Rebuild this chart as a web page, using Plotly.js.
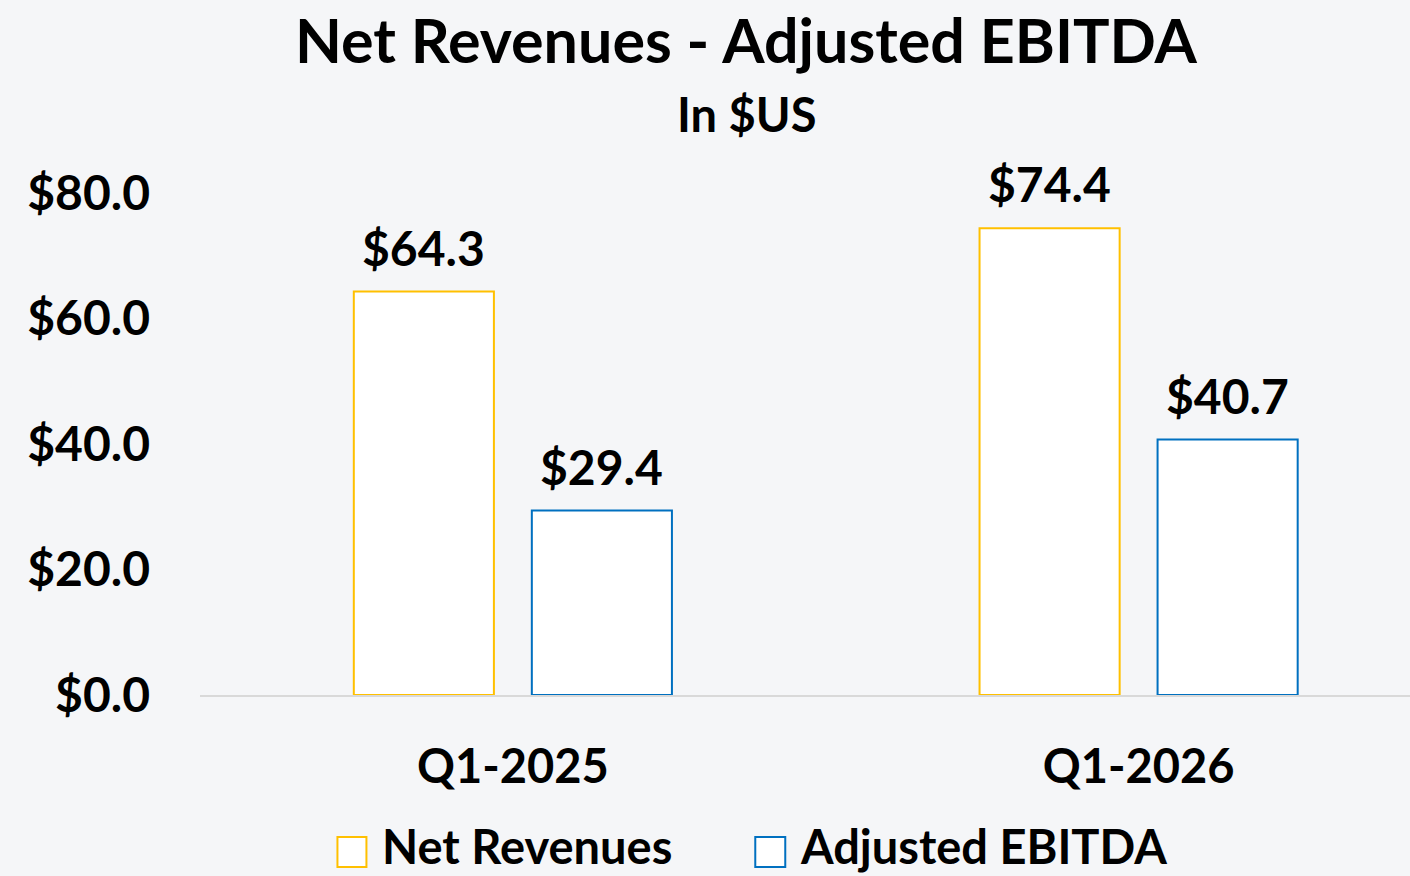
<!DOCTYPE html>
<html>
<head>
<meta charset="utf-8">
<script src="https://cdn.plot.ly/plotly-3.0.1.min.js"></script>
<style>
html,body{margin:0;padding:0;background:#f5f6f8;overflow:hidden;}
#chart{width:1410px;height:876px;}
</style>
</head>
<body>
<div id="chart"></div>
<script>
const categories = ["Q1-2025", "Q1-2026"];
const seriesNames = ["Net Revenues", "Adjusted EBITDA"];
const netRevenues = [64.3, 74.4];
const adjustedEbitda = [29.4, 40.7];
const yTicks = [0, 20, 40, 60, 80];
const titleText = "Net Revenues - Adjusted EBITDA";
const subtitleText = "In $US";

const FONT = "Lato, 'Open Sans', sans-serif";
const colors = ["#FFC000", "#0070C0"];
const values = [netRevenues, adjustedEbitda];

const traces = values.map((v, i) => ({
  type: "bar",
  name: seriesNames[i],
  x: categories,
  y: v,
  marker: {color: "#ffffff", line: {color: colors[i], width: 2}},
  hoverinfo: "skip",
  showlegend: false
}));

const offsets = [-89, 89];
const annotations = [];
values.forEach((v, i) => {
  v.forEach((val, j) => {
    annotations.push({
      x: categories[j], y: val, xref: "x", yref: "y",
      xshift: offsets[i], yshift: 14,
      yanchor: "bottom", xanchor: "center",
      text: "$" + val.toFixed(1), showarrow: false,
      font: {family: FONT, size: 48, color: "#000", weight: 700}
    });
  });
});
annotations.push({
  xref: "paper", yref: "paper", x: (746 - 199.5) / 1210.5, y: (695 - 114) / 502,
  xanchor: "center", yanchor: "middle", showarrow: false,
  text: subtitleText, font: {family: FONT, size: 47, color: "#000", weight: 700}
});

// custom legend
const legendBoxes = [[337, 366], [755, 785]];
const legendText = [381, 799];
const shapes = [];
seriesNames.forEach((n, i) => {
  shapes.push({
    type: "rect", xref: "paper", yref: "paper",
    x0: (legendBoxes[i][0] - 199.5) / 1210.5, x1: (legendBoxes[i][1] - 199.5) / 1210.5,
    y0: (695 - 837) / 502, y1: (695 - 867) / 502,
    fillcolor: "#ffffff", line: {color: colors[i], width: 2}
  });
  annotations.push({
    xref: "paper", yref: "paper", x: (legendText[i] - 199.5) / 1210.5, y: (695 - 846) / 502,
    xanchor: "left", yanchor: "middle", showarrow: false, borderpad: 0,
    text: n, font: {family: FONT, size: 47, color: "#000", weight: 700}
  });
});

const layout = {
  width: 1410, height: 876,
  paper_bgcolor: "#f5f6f8", plot_bgcolor: "#f5f6f8",
  margin: {l: 199.5, r: 0, t: 193, b: 181},
  title: {
    text: titleText, x: 746 / 1410, xanchor: "center",
    y: 1 - 42 / 876, yanchor: "middle", xref: "container", yref: "container",
    font: {family: FONT, size: 61, color: "#000", weight: 700}
  },
  barmode: "group",
  bargap: 0.431,
  bargroupgap: 0.213,
  xaxis: {
    type: "category", range: [-0.5, -0.5 + 1210.5 / 626],
    showgrid: false, zeroline: false,
    showline: true, linecolor: "#d9d9d9", linewidth: 2,
    ticks: "", ticklabelstandoff: 30,
    tickfont: {family: FONT, size: 47, color: "#000", weight: 700},
    fixedrange: true
  },
  yaxis: {
    range: [0, 80], tickvals: yTicks,
    ticktext: yTicks.map(t => "$" + t.toFixed(1)),
    showgrid: false, zeroline: false, showline: false,
    ticks: "", ticklabelstandoff: 49,
    tickfont: {family: FONT, size: 48, color: "#000", weight: 700},
    fixedrange: true
  },
  annotations: annotations,
  shapes: shapes,
  showlegend: false
};

Plotly.newPlot("chart", traces, layout, {displayModeBar: false, staticPlot: true});
</script>
</body>
</html>
